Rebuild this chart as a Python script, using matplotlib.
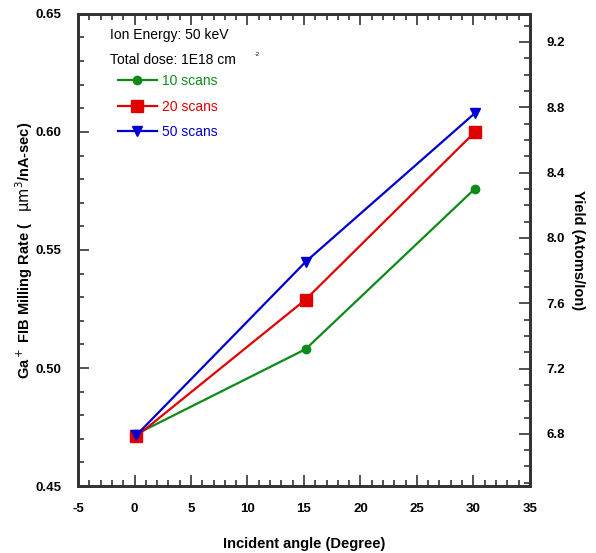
import numpy as np
import matplotlib
matplotlib.use("Agg")
import matplotlib.pyplot as plt
from matplotlib.ticker import MultipleLocator

plt.rcParams['font.family'] = ['Liberation Sans', 'DejaVu Sans']
plt.rcParams['axes.unicode_minus'] = False

# data
angle = [0.15, 15.15, 30.15]
scans_10 = [0.472, 0.508, 0.576]
scans_20 = [0.471, 0.529, 0.600]
scans_50 = [0.4715, 0.545, 0.608]
labels = ["10 scans", "20 scans", "50 scans"]

green = "#0d8a1a"
red = "#e00000"
blue = "#0000d0"
spine_c = "#333333"

fig = plt.figure(figsize=(5.96, 5.53), dpi=100)
ax = fig.add_axes([0.131, 0.121, 0.758, 0.854])

ax.plot(angle, scans_10, color=green, lw=1.6, marker='o', ms=6, label=labels[0])
ax.plot(angle, scans_20, color=red, lw=1.6, marker='s', ms=8, label=labels[1])
ax.plot(angle, scans_50, color=blue, lw=1.6, marker='v', ms=7, label=labels[2])

ax.set_xlim(-5, 35)
ax.set_ylim(0.45, 0.65)
ax.xaxis.set_major_locator(MultipleLocator(5))
ax.xaxis.set_minor_locator(MultipleLocator(1))
ax.yaxis.set_major_locator(MultipleLocator(0.05))
ax.yaxis.set_minor_locator(MultipleLocator(0.01))
ax.yaxis.set_major_formatter(plt.FormatStrFormatter('%.2f'))
ax.tick_params(which='both', direction='in', top=True, right=False, color=spine_c, width=1.2)
ax.tick_params(which='major', length=8, labelsize=9.5, pad=12)
ax.tick_params(which='minor', length=4)
for lab in ax.get_xticklabels() + ax.get_yticklabels():
    lab.set_fontweight('bold')
for s in ax.spines.values():
    s.set_linewidth(2)
    s.set_color(spine_c)

ax.set_xlabel("Incident angle (Degree)", fontsize=10.5, fontweight='bold', labelpad=16)
ax.set_ylabel(r"Ga$^+$ FIB Milling Rate (   $\mathrm{\mu m^3}$/nA-sec)", fontsize=10.5,
              fontweight='bold', labelpad=0)

ax2 = ax.twinx()
ax2.set_ylim(6.48, 9.372)
ax2.yaxis.set_major_locator(MultipleLocator(0.4))
ax2.yaxis.set_minor_locator(MultipleLocator(0.1))
ax2.yaxis.set_major_formatter(plt.FormatStrFormatter('%.1f'))
ax2.tick_params(which='both', direction='in', color=spine_c, width=1.2)
ax2.tick_params(which='major', length=8, labelsize=9.5, pad=12)
ax2.tick_params(which='minor', length=4)
for lab in ax2.get_yticklabels():
    lab.set_fontweight('bold')
for s in ax2.spines.values():
    s.set_linewidth(2)
    s.set_color(spine_c)
ax2.set_ylabel("Yield (Atoms/Ion)", fontsize=10.5, fontweight='bold', rotation=-90, labelpad=14)

ax.text(0.07, 0.955, "Ion Energy: 50 keV", transform=ax.transAxes, fontsize=10, va='center')
ax.text(0.07, 0.9025, "Total dose: 1E18 cm", transform=ax.transAxes, fontsize=10, va='center')
ax.text(0.392, 0.913, "-2", transform=ax.transAxes, fontsize=4, va='center')

ax.legend(loc='upper left', bbox_to_anchor=(0.088, 0.872), frameon=False, fontsize=10,
          labelcolor='linecolor', handlelength=2.8, handletextpad=0.36, labelspacing=0.83,
          borderpad=0, borderaxespad=0)

fig.savefig("out.png", dpi=100)
